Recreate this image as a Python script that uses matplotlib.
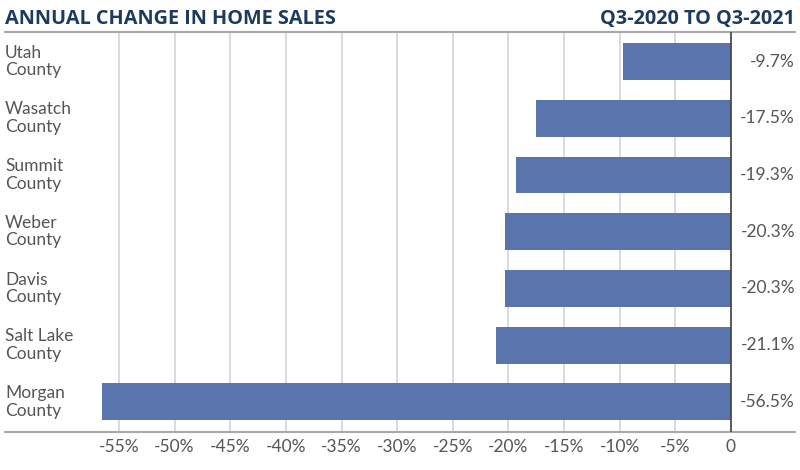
import matplotlib.pyplot as plt
import numpy as np

counties = ["Utah\nCounty", "Wasatch\nCounty", "Summit\nCounty", "Weber\nCounty",
            "Davis\nCounty", "Salt Lake\nCounty", "Morgan\nCounty"]
change = [-9.7, -17.5, -19.3, -20.3, -20.3, -21.1, -56.5]
labels = ["-9.7%", "-17.5%", "-19.3%", "-20.3%", "-20.3%", "-21.1%", "-56.5%"]
ticks = [-55, -50, -45, -40, -35, -30, -25, -20, -15, -10, -5, 0]
tick_labels = ["-55%", "-50%", "-45%", "-40%", "-35%", "-30%", "-25%",
               "-20%", "-15%", "-10%", "-5%", "0"]

plt.rcParams['font.family'] = ['Lato', 'DejaVu Sans']

W, H = 800, 470
fig = plt.figure(figsize=(8, 4.7), dpi=100)
# axes spans the whole strip between top rule and bottom axis line
ax = fig.add_axes([5 / W, 1 - 432 / H, 790 / W, 400 / H])

px = 55.64 / 5  # pixels per percent
x0 = -(731 - 5) / px
x1 = (795 - 731) / px
ax.set_xlim(x0, x1)
ax.set_ylim(6.53, -0.52)

y = np.arange(len(counties))
ax.barh(y, change, height=0.65, color="#5a74ad", zorder=3)

for t in ticks:
    ax.axvline(t, color="#d4d4d4", lw=1.2, zorder=1)
ax.axvline(0, color="#444444", lw=1.2, zorder=4)

for s in ["left", "right"]:
    ax.spines[s].set_visible(False)
ax.spines["top"].set_color("#a8a8a8")
ax.spines["top"].set_linewidth(1.5)
ax.spines["bottom"].set_color("#a8a8a8")
ax.spines["bottom"].set_linewidth(1.5)

ax.set_yticks([])
ax.set_xticks(ticks)
ax.set_xticklabels(tick_labels, fontsize=12.5, color="#555555")
ax.tick_params(axis="x", length=0, pad=5)

for i, name in enumerate(counties):
    ax.text(0, i, name, transform=ax.get_yaxis_transform(), ha="left", va="center",
            fontsize=12.5, color="#555555", linespacing=1.12)
    ax.text(1, i, labels[i], transform=ax.get_yaxis_transform(), ha="right", va="center",
            fontsize=12.5, color="#555555")

fig.text(5 / W, 1 - 19 / H, "ANNUAL CHANGE IN HOME SALES", ha="left", va="center",
         fontsize=14.3, fontweight="bold", color="#1d3a5f", family="Open Sans")
fig.text(795 / W, 1 - 19 / H, "Q3-2020 TO Q3-2021", ha="right", va="center",
         fontsize=14.3, fontweight="bold", color="#1d3a5f", family="Open Sans")

fig.savefig("out.png", dpi=100)
